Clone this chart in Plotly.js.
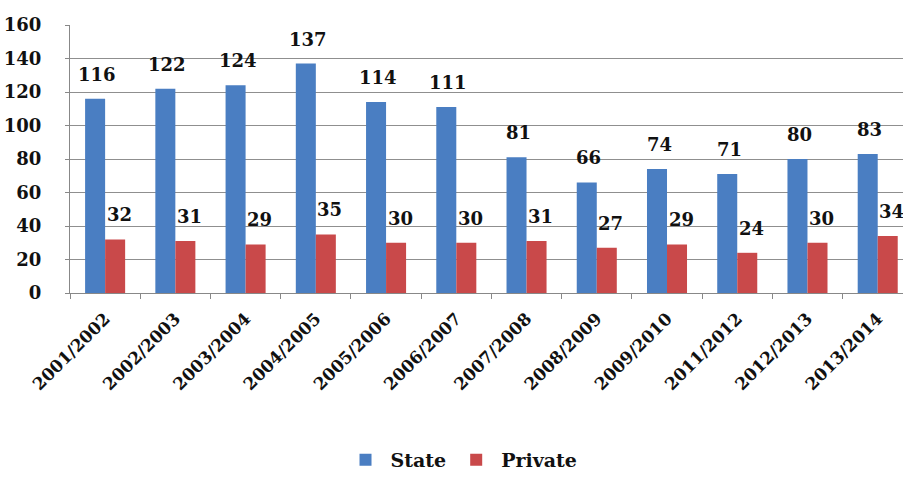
<!DOCTYPE html>
<html>
<head>
<meta charset="utf-8">
<script src="https://cdn.plot.ly/plotly-3.0.1.min.js"></script>
<style>html,body{margin:0;padding:0;background:#fff;}#chart{width:903px;height:479px;}</style>
</head>
<body>
<div id="chart"></div>
<script>
var categories = ["2001/2002","2002/2003","2003/2004","2004/2005","2005/2006","2006/2007","2007/2008","2008/2009","2009/2010","2011/2012","2012/2013","2013/2014"];
var stateValues = [116,122,124,137,114,111,81,66,74,71,80,83];
var privateValues = [32,31,29,35,30,30,31,27,29,24,30,34];
var yTicks = [0,20,40,60,80,100,120,140,160];

var font = "DejaVu Serif";
var blue = "#4a7ec2";
var red = "#c9494a";

var traces = [
  {type:"bar", name:"State", x:categories, y:stateValues, marker:{color:blue}, offsetgroup:"a"},
  {type:"bar", name:"Private", x:categories, y:privateValues, marker:{color:red}, offsetgroup:"b"}
];

var annotations = [];
function addLabels(vals, xshift){
  vals.forEach(function(v,i){
    annotations.push({x:categories[i], y:v, xref:"x", yref:"y", text:"<b>"+v+"</b>", showarrow:false,
      xshift:xshift, yshift:12, yanchor:"bottom",
      font:{family:font, size:18, color:"#111"}});
  });
}
addLabels(stateValues, -8);
addLabels(privateValues, 14);

var layout = {
  width:903, height:479,
  margin:{l:70, r:0, t:25, b:186},
  paper_bgcolor:"#fff", plot_bgcolor:"#fff",
  barmode:"group", bargap:0.43, bargroupgap:0,
  showlegend:true,
  legend:{orientation:"h", x:0.47, xanchor:"center", yref:"container", y:0.0, yanchor:"bottom",
    font:{family:font, size:19, color:"#111", weight:"bold"}, itemwidth:40, tracegroupgap:0,
    bgcolor:"rgba(0,0,0,0)"},
  xaxis:{type:"category", automargin:false, range:[-0.5, 11.36], tickson:"boundaries", ticks:"outside", ticklen:5, tickcolor:"#888",
    showline:true, linecolor:"#888", linewidth:1, tickangle:-45, ticklabelstandoff:8,
    tickfont:{family:font, size:17, color:"#111", weight:"bold"}, showgrid:false},
  yaxis:{automargin:false, range:[0,160], tickvals:yTicks, ticktext:yTicks.map(String), showgrid:true, gridcolor:"#8f8f8f", gridwidth:1,
    showline:true, linecolor:"#888", ticks:"outside", ticklen:4, tickcolor:"#888", ticklabelstandoff:20,
    tickfont:{family:font, size:18, color:"#111", weight:"bold"}, zeroline:false},
  annotations:annotations
};

Plotly.newPlot("chart", traces, layout, {displayModeBar:false, staticPlot:true});
</script>
</body>
</html>
